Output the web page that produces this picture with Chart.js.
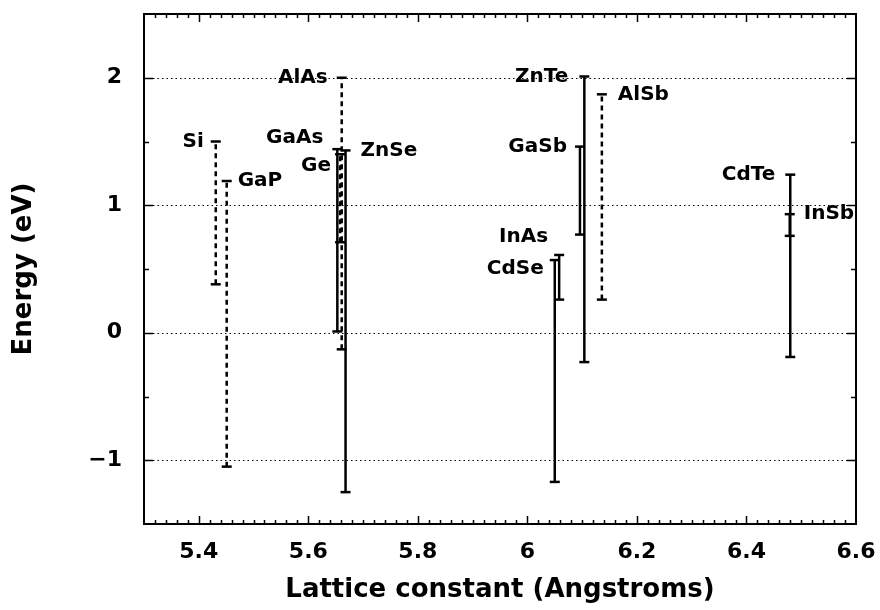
<!DOCTYPE html>
<html>
<head>
<meta charset="utf-8">
<script src="https://cdn.jsdelivr.net/npm/chart.js@4.4.0/dist/chart.umd.min.js"></script>
<style>
  html, body { margin: 0; padding: 0; background: #fff; }
  #wrap { width: 880px; height: 610px; }
</style>
</head>
<body>
<div id="wrap"><canvas id="gaps" width="880" height="610"></canvas></div>
<script>
// band edges of common semiconductors against lattice constant
var names     = ['Si', 'GaP', 'AlAs', 'GaAs', 'Ge', 'ZnSe', 'CdSe', 'InAs', 'GaSb', 'ZnTe', 'AlSb', 'CdTe', 'InSb'];
var lattice   = [5.431, 5.451, 5.661, 5.653, 5.658, 5.668, 6.050, 6.058, 6.096, 6.104, 6.136, 6.480, 6.479];
var condEdge  = [1.50, 1.19, 2.00, 1.44, 1.40, 1.43, 0.57, 0.61, 1.46, 2.01, 1.87, 1.24, 0.93];
var valEdge   = [0.38, -1.05, -0.13, 0.01, 0.71, -1.25, -1.17, 0.26, 0.77, -0.23, 0.26, -0.19, 0.76];
var indirect  = [true, true, true, false, true, false, false, false, false, false, true, false, false];

var xTicks = [5.4, 5.6, 5.8, 6, 6.2, 6.4, 6.6];
var yTicks = [-1, 0, 1, 2];

// which side of the bar each name sits on, and small nudges in px
var labelSide  = ['L', 'R', 'L', 'L', 'L', 'R', 'L', 'L', 'L', 'L', 'R', 'L', 'R'];
var labelDx    = [12, 11, 14, 14, 9, 15, 11, 11, 13, 16, 16, 15, 14];
var labelDy    = [0, 0, 0, -11, 12, 0, 9, -18, 0, 0, 0, 0, 0];

var FONT = '"DejaVu Sans", sans-serif';

var datasets = names.map(function (n, i) {
    return {
        label: n,
        data: [{x: lattice[i], y: valEdge[i]}, {x: lattice[i], y: condEdge[i]}],
        showLine: true,
        borderColor: '#000',
        borderWidth: 2.5,
        borderDash: indirect[i] ? [5, 4] : [],
        pointStyle: 'line',
        pointRadius: 5,
        pointBorderWidth: 2.5,
        pointBorderColor: '#000',
        pointBackgroundColor: '#000',
        pointHoverRadius: 5
    };
});

var framePlugin = {
    id: 'frame',
    beforeDatasetsDraw: function (chart) {
        var ctx = chart.ctx, a = chart.chartArea, ys = chart.scales.y;
        ctx.save();
        ctx.strokeStyle = '#000';
        ctx.lineWidth = 1;
        ctx.setLineDash([1.5, 3]);
        yTicks.forEach(function (v) {
            var py = Math.round(ys.getPixelForValue(v)) + 0.5;
            ctx.beginPath();
            ctx.moveTo(a.left, py);
            ctx.lineTo(a.right, py);
            ctx.stroke();
        });
        ctx.restore();
    },
    afterDatasetsDraw: function (chart) {
        var ctx = chart.ctx, a = chart.chartArea, xs = chart.scales.x, ys = chart.scales.y;
        ctx.save();
        ctx.strokeStyle = '#000';
        ctx.setLineDash([]);
        ctx.lineWidth = 1.5;
        // inward ticks, minor every 0.02 on x, every 0.5 on y
        for (var i = 1; i < 65; i++) {
            var v = 5.3 + i * 0.02;
            var major = Math.abs(v * 5 - Math.round(v * 5)) < 1e-6;
            var len = major ? 8 : 4;
            var px = Math.round(xs.getPixelForValue(v)) + 0.5;
            ctx.beginPath();
            ctx.moveTo(px, a.bottom); ctx.lineTo(px, a.bottom - len);
            ctx.moveTo(px, a.top); ctx.lineTo(px, a.top + len);
            ctx.stroke();
        }
        for (var j = 1; j < 8; j++) {
            var w = -1.5 + j * 0.5;
            var lenY = Number.isInteger(w) ? 9 : 5;
            var py = Math.round(ys.getPixelForValue(w)) + 0.5;
            ctx.beginPath();
            ctx.moveTo(a.left, py); ctx.lineTo(a.left + lenY, py);
            ctx.moveTo(a.right, py); ctx.lineTo(a.right - lenY, py);
            ctx.stroke();
        }
        ctx.lineWidth = 2;
        ctx.strokeRect(a.left, a.top, a.right - a.left, a.bottom - a.top);

        // material names next to the conduction edge
        ctx.fillStyle = '#000';
        ctx.font = 'bold 20px ' + FONT;
        ctx.textBaseline = 'middle';
        names.forEach(function (n, k) {
            var bx = xs.getPixelForValue(lattice[k]);
            var by = ys.getPixelForValue(condEdge[k]) + labelDy[k];
            if (labelSide[k] === 'L') {
                ctx.textAlign = 'right';
                ctx.fillText(n, bx - labelDx[k], by);
            } else {
                ctx.textAlign = 'left';
                ctx.fillText(n, bx + labelDx[k], by);
            }
        });
        ctx.restore();
    }
};

var fmt = function (v) {
    var s = String(Math.round(v * 10) / 10);
    return s.replace('-', '\u2212');
};

new Chart(document.getElementById('gaps'), {
    type: 'scatter',
    data: { datasets: datasets },
    options: {
        responsive: false,
        animation: false,
        devicePixelRatio: 1,
        events: [],
        layout: { padding: { left: 0, right: 24, top: 14, bottom: 0 } },
        plugins: {
            legend: { display: false },
            tooltip: { enabled: false }
        },
        scales: {
            x: {
                type: 'linear',
                min: 5.3,
                max: 6.6,
                afterBuildTicks: function (s) { s.ticks = xTicks.map(function (v) { return {value: v}; }); },
                afterFit: function (s) { s.height = 86; s.paddingLeft = 0; s.paddingRight = 0; },
                grid: { display: false, drawTicks: false },
                border: { display: false },
                ticks: { color: '#000', padding: 15, font: { family: FONT, size: 22, weight: 'bold' }, callback: fmt },
                title: {
                    display: true,
                    text: 'Lattice constant (Angstroms)',
                    color: '#000',
                    font: { family: FONT, size: 26, weight: 'bold' },
                    padding: { top: 0, bottom: 4 }
                }
            },
            y: {
                type: 'linear',
                min: -1.5,
                max: 2.5,
                afterBuildTicks: function (s) { s.ticks = yTicks.map(function (v) { return {value: v}; }); },
                afterFit: function (s) { s.width = 144; s.paddingTop = 0; s.paddingBottom = 0; },
                grid: { display: false, drawTicks: false },
                border: { display: false },
                ticks: { color: '#000', padding: 22, font: { family: FONT, size: 22, weight: 'bold' }, callback: fmt },
                title: {
                    display: true,
                    text: 'Energy (eV)',
                    color: '#000',
                    font: { family: FONT, size: 26, weight: 'bold' },
                    padding: { top: 9, bottom: 0 }
                }
            }
        }
    },
    plugins: [framePlugin]
});
</script>
</body>
</html>
